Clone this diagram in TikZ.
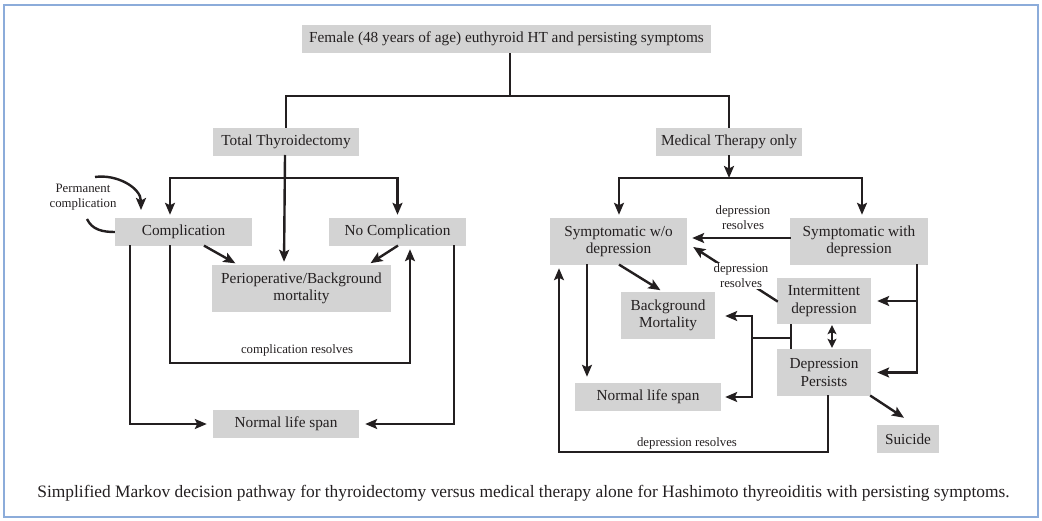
\documentclass[tikz,border=0pt]{standalone}
\usepackage{fontspec}
\setmainfont{Liberation Serif}
\usetikzlibrary{arrows.meta,calc}
\definecolor{boxgray}{RGB}{211,211,211}
\definecolor{ink}{RGB}{35,31,32}
\definecolor{framecol}{RGB}{140,172,218}
\tikzset{
  box/.style={fill=boxgray, inner sep=0pt, align=center, text=ink,
    font=\fontsize{15.3}{17.5}\selectfont},
  lbl/.style={inner sep=0pt, align=center, text=ink,
    font=\fontsize{12.8}{15}\selectfont},
  conn/.style={draw=ink, line width=2.4pt, line cap=rect},
  arr/.style={conn, -{Stealth[length=12pt,width=10pt,inset=2.5pt]}, shorten >=3pt},
  darr/.style={conn, {Stealth[length=9pt,width=9pt,inset=2pt]}-{Stealth[length=9pt,width=9pt,inset=2pt]}, shorten >=1pt, shorten <=1pt},
}
\begin{document}
\begin{tikzpicture}[x=1pt,y=-1pt]
\useasboundingbox (0,0) rectangle (1042,521);
\draw[framecol, line width=2pt] (4,5) rectangle (1038,517);

% nodes
\node[box, minimum width=409, minimum height=28] (top) at (506.5,39) {Female (48 years of age) euthyroid HT and persisting symptoms};
\node[box, minimum width=146, minimum height=28] (tt) at (286,142) {Total Thyroidectomy};
\node[box, minimum width=146, minimum height=28] (mt) at (729,142) {Medical Therapy only};
\node[box, minimum width=137, minimum height=28] (comp) at (183.5,232) {Complication};
\node[box, minimum width=137, minimum height=28] (nocomp) at (397.5,232) {No Complication};
\node[box, minimum width=179, minimum height=47] (peri) at (301.5,288.5) {Perioperative/Background\\mortality};
\node[box, minimum width=146, minimum height=28] (nls1) at (286,424) {Normal life span};
\node[box, minimum width=137, minimum height=47] (sw) at (618.5,241.5) {Symptomatic w/o\\depression};
\node[box, minimum width=138, minimum height=47] (swd) at (859,241.5) {Symptomatic with\\depression};
\node[box, minimum width=94, minimum height=46] (inter) at (824,301) {Intermittent\\depression};
\node[box, minimum width=94, minimum height=47] (bm) at (668,315.5) {Background\\Mortality};
\node[box, minimum width=94, minimum height=47] (dp) at (824,372.5) {Depression\\Persists};
\node[box, minimum width=146, minimum height=28] (nls2) at (648,397) {Normal life span};
\node[box, minimum width=62, minimum height=28] (sui) at (908,439) {Suicide};

% labels
\node[lbl] (lperm) at (83,197) {Permanent\\complication};
\node[lbl] (lcr) at (297,350) {complication resolves};
\node[lbl] (ldr1) at (743,218) {depression\\resolves};
\node[lbl] (ldr3) at (687,443) {depression resolves};

% top split
\coordinate (jtop) at (510,96);
\draw[conn, line cap=butt] (top.south -| jtop) -- (jtop);
\draw[conn, line cap=butt] (tt.north) |- (jtop) -| (mt.north);

% left tree
\coordinate (cL) at (170,178);
\coordinate (cR) at (397.5,178);
\draw[arr] (cR) -- (cL) -- (cL |- comp.north);
\draw[arr] (cL) -- (cR) -- (nocomp.north);
\draw[arr] ([xshift=-1]tt.south) -- ([xshift=-17.5]peri.north);

% permanent complication loop
\coordinate (pc1) at (95,177);
\coordinate (pc2) at (141,210);
\coordinate (pc3) at (87,219);
\draw[arr, shorten >=0pt, line cap=butt] (pc1) to[out=8,in=90] (pc2);
\draw[conn, line cap=butt] (pc3) to[out=-65,in=180] (comp.west);

% complication outgoing
\draw[arr] ([xshift=21.5]comp.south) -- ([xshift=-63.5]peri.north);
\draw[arr] ([xshift=-0.5]nocomp.south) -- ([xshift=66.5]peri.north);
\coordinate (cb1) at (130,424);
\draw[arr, shorten >=6pt] (comp.south -| cb1) -- (cb1) -- (nls1.west);
\coordinate (cr1) at (170,363);
\coordinate (cr2) at (410,363);
\draw[arr] (comp.south -| cr1) -- (cr1) -- (cr2) -- (cr2 |- nocomp.south);
\coordinate (nr) at (454,424);
\draw[arr, shorten >=6pt] (nocomp.south -| nr) -- (nr) -- (nls1.east);

% right tree
\coordinate (jm) at (729,178);
\coordinate (jmL) at (619,178);
\coordinate (jmR) at (862,178);
\draw[arr, shorten >=0pt] (mt.south) -- (jm);
\draw[arr] (jmR) -- (jmL) -- (jmL |- sw.north);
\draw[arr] (jmL) -- (jmR) -- (jmR |- swd.north);

\draw[arr, shorten >=5pt] ([yshift=3.5]swd.west) -- ([yshift=3.5]sw.east);
\draw[arr, shorten >=0pt] (inter.west) -- ([xshift=6,yshift=-5.5]sw.east);
\node[lbl, fill=white, inner sep=1pt] (ldr2) at (741,276) {depression\\resolves};

\coordinate (vr1) at (917,301);
\coordinate (vr2) at (917,372.5);
\draw[arr, shorten >=6pt] (swd.south -| vr1) -- (vr2) -- (dp.east);
\draw[arr, shorten >=6pt] (vr1) -- (inter.east);

\draw[darr, line cap=butt] ([xshift=8]inter.south) -- ([xshift=8]dp.north);

\coordinate (k1) at (791,338);
\coordinate (k2) at (752,338);
\coordinate (k3) at (752,316);
\coordinate (k4) at (752,397);
\draw[conn, line cap=butt] ([xshift=-33]inter.south) -- ([xshift=-33]dp.north);
\draw[conn] (k1) -- (k2);
\draw[arr, shorten >=10pt] (k4) -- (k3) -- (k3 -| bm.east);
\draw[arr, shorten >=4pt] (k3) -- (k4) -- (nls2.east);

\draw[arr] ([xshift=1.5]sw.south) -- ([xshift=-5]bm.north);
\draw[arr, shorten >=6pt] ([xshift=-31.5]sw.south) -- ([xshift=-61]nls2.north);

\coordinate (d1) at (828,452);
\coordinate (d2) at (559,452);
\draw[arr] ([xshift=4]dp.south) -- (d1) -- (d2) -- (d2 |- sw.south);
\draw[arr, shorten >=0pt] (dp.south east) -- ([xshift=-4,yshift=7]sui.north);

% caption
\node[inner sep=0pt, text=ink, font=\fontsize{17.4}{20}\selectfont] (cap) at (523.5,493) {Simplified Markov decision pathway for thyroidectomy versus medical therapy alone for Hashimoto thyreoiditis with persisting symptoms.};
\end{tikzpicture}
\end{document}
